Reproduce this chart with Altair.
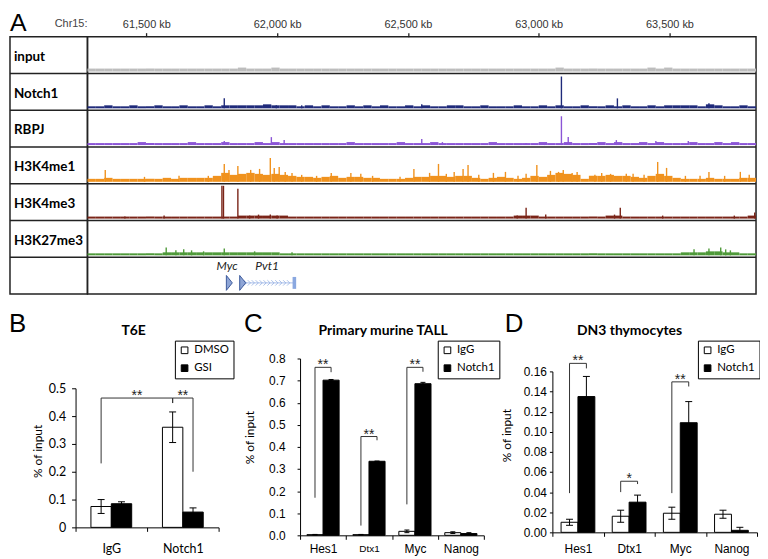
import altair as alt
import pandas as pd

# ---------------- Panel A : genome browser view ----------------
chrom_start = 61275
chrom_end = 63831
axis_kb = [61500, 62000, 62500, 63000, 63500]
track_names = ["input", "Notch1", "RBPJ", "H3K4me1", "H3K4me3", "H3K27me3"]
track_colors = ["#bdbdbd", "#1f2a7a", "#8b55d6", "#f0921e", "#7a2417", "#4f9a3a"]

input_bins = [3,3,3,3,3,3,3,3,3,3, 3,3,3,3,3,3,3,3,4,3, 3,3,4,3,3,3,3,3,3,3,
              3,3,3,3,3,3,3,3,3,3, 3,3,3,3,3,3,3,3,3,3, 3,3,3,3,3,3,4,3,3,3,
              3,3,3,3,3,3,3,4,3,4, 3,3,3,3,3,3,3,3,3,3]
notch1_bins = [2,2,3,2,2,3,2,2,3,2, 2,3,2,2,3,2,3,3,3,3, 3,4,3,3,3,2,3,2,3,2,
               2,3,2,3,2,3,2,2,3,2, 3,2,2,3,3,2,2,3,2,2, 2,3,2,2,3,2,3,2,2,3,
               2,2,3,2,3,2,2,3,2,3, 3,3,3,2,4,3,2,2,3,2]
rbpj_bins = [2,2,2,2,2,2,3,2,2,2, 2,2,3,2,2,2,3,2,2,2, 3,2,3,2,2,2,2,2,2,2,
             2,3,2,2,2,2,2,3,2,2, 2,3,2,2,2,2,2,2,3,2, 2,2,2,2,3,2,2,3,2,2,
             2,3,2,3,2,2,3,2,3,2, 2,2,3,2,2,3,2,3,2,2]
h3k4me1_bins = [3,3,4,3,3,3,3,3,3,4, 3,4,4,4,4,6,9,7,8,9, 8,7,8,7,6,5,5,4,5,6,
                4,5,5,4,4,3,3,3,4,5, 5,6,6,5,6,6,4,3,4,5, 4,3,4,6,5,7,9,8,7,3,
                6,6,7,6,6,5,4,6,8,6, 4,3,3,3,4,3,3,3,4,4]
h3k4me3_bins = [2,2,2,2,2,2,2,2,2,2, 2,2,2,2,2,2,2,2,3,3, 3,3,3,3,2,2,2,2,2,2,
                2,2,2,2,2,2,2,2,2,2, 2,2,2,2,2,2,2,2,2,2, 2,3,3,3,2,2,2,2,2,2,
                2,2,3,3,2,2,2,2,2,2, 2,2,2,2,2,2,2,2,2,3]
h3k27me3_bins = [2,2,2,2,2,2,2,2,2,3, 3,3,3,3,3,3,3,3,3,3, 3,3,3,2,2,2,2,2,2,2,
                 2,2,2,2,2,2,2,2,2,2, 2,2,2,2,2,2,2,2,2,2, 2,2,2,2,2,2,2,2,2,2,
                 2,2,2,2,2,2,2,2,2,2, 2,3,3,3,4,4,3,3,2,2]

# narrow peaks: (position kb, height)
notch1_peaks = [(61798, 10), (61997, 3), (62094, 3), (62553, 4), (63087, 32), (63301, 10), (63651, 5)]
rbpj_peaks = [(61519, 2), (61798, 4), (61978, 8), (62027, 5), (62553, 6), (62632, 3), (62952, 2),
              (63023, 2), (63087, 29), (63113, 8), (63297, 5), (63448, 4), (63572, 4)]
h3k4me1_peaks = [(61343, 12), (61493, 5), (61625, 6), (61737, 6), (61798, 18), (61816, 12),
                 (61850, 16), (61899, 12), (61933, 13), (61974, 24), (61989, 14), (62008, 15),
                 (62031, 10), (62057, 9), (62094, 7), (62151, 6), (62207, 9), (62282, 9),
                 (62320, 8), (62365, 6), (62470, 5), (62523, 13), (62583, 9), (62617, 18),
                 (62647, 8), (62677, 10), (62711, 13), (62730, 17), (62771, 7), (62827, 9),
                 (62873, 10), (62921, 6), (62952, 8), (62993, 17), (63045, 11), (63076, 10),
                 (63094, 12), (63128, 9), (63147, 10), (63215, 7), (63241, 9), (63275, 8),
                 (63335, 8), (63361, 8), (63403, 7), (63455, 20), (63489, 14), (63561, 6),
                 (63617, 6), (63651, 10), (63711, 6), (63771, 10), (63805, 7)]
h3k4me3_peaks = [(61418, 2), (61568, 3), (61789, 33), (61795, 33), (61850, 30), (61895, 3),
                 (61929, 4), (61974, 4), (62000, 3), (62918, 3), (62952, 11), (63027, 4),
                 (63290, 4), (63312, 11), (63474, 3), (63748, 3), (63826, 6)]
h3k27me3_peaks = [(61576, 8), (61613, 5), (61643, 6), (61673, 5), (61719, 4), (61798, 7),
                  (61914, 4), (62057, 3), (63594, 6), (63651, 7), (63696, 8), (63715, 6), (63733, 5)]

gene_names = ["Myc", "Pvt1"]
gene_start = [61806, 61857]
gene_end = [61812, 62066]
pvt1_intron_arrows = [61878, 61893, 61908, 61923, 61938, 61953, 61968, 61983, 61998, 62013, 62028, 62043]

# ---------------- Panels B, C, D : ChIP-qPCR ----------------
b_cats = ["IgG", "Notch1"]
b_series = ["DMSO", "GSI"]
b_means = [[0.075, 0.36], [0.085, 0.055]]
b_errs = [[0.025, 0.055], [0.007, 0.015]]
b_brackets = [("IgG", "DMSO", "Notch1", "DMSO", 0.23, 0.465, 0.447, "**"),
              ("Notch1", "DMSO", "Notch1", "GSI", 0.447, 0.465, 0.20, "**")]

c_cats = ["Hes1", "Dtx1", "Myc", "Nanog"]
c_series = ["IgG", "Notch1"]
c_means = [[0.003, 0.003, 0.018, 0.012], [0.702, 0.335, 0.686, 0.008]]
c_errs = [[0.001, 0.001, 0.006, 0.004], [0.003, 0.001, 0.006, 0.004]]
c_brackets = [("Hes1", "IgG", "Hes1", "Notch1", 0.17, 0.76, 0.738, "**"),
              ("Dtx1", "IgG", "Dtx1", "Notch1", 0.044, 0.447, 0.43, "**"),
              ("Myc", "IgG", "Myc", "Notch1", 0.14, 0.76, 0.74, "**")]

d_cats = ["Hes1", "Dtx1", "Myc", "Nanog"]
d_series = ["IgG", "Notch1"]
d_means = [[0.010, 0.016, 0.019, 0.018], [0.135, 0.030, 0.109, 0.002]]
d_errs = [[0.003, 0.006, 0.006, 0.004], [0.020, 0.007, 0.021, 0.003]]
d_brackets = [("Hes1", "IgG", "Hes1", "Notch1", 0.039, 0.168, 0.163, "**"),
              ("Dtx1", "IgG", "Dtx1", "Notch1", 0.040, 0.0508, 0.048, "*"),
              ("Myc", "IgG", "Myc", "Notch1", 0.039, 0.1496, 0.145, "**")]

# ================= build panel A =================
TRACK_PX = 37
N_ROWS = 7
A_W_LAB, A_W_TR, A_H = 78, 673, TRACK_PX * N_ROWS
BORDER = "#222222"
base_gap = 0.05

all_bins = [input_bins, notch1_bins, rbpj_bins, h3k4me1_bins, h3k4me3_bins, h3k27me3_bins]
all_peaks = [[], notch1_peaks, rbpj_peaks, h3k4me1_peaks, h3k4me3_peaks, h3k27me3_peaks]

bin_rows, peak_rows = [], []
for ti, name in enumerate(track_names):
    base = ti + 1 - base_gap
    vals = all_bins[ti]
    bw = (chrom_end - chrom_start) / len(vals)
    for i, v in enumerate(vals):
        bin_rows.append(dict(track=name, x=chrom_start + i * bw, x2=chrom_start + (i + 1) * bw,
                             y=base, y2=base - v / TRACK_PX))
    for kb, h in all_peaks[ti]:
        peak_rows.append(dict(track=name, kb=kb, y=base, y2=base - h / TRACK_PX))
bins_df = pd.DataFrame(bin_rows)
peaks_df = pd.DataFrame(peak_rows)

rows_df = pd.DataFrame({"name": track_names + [""], "row": list(range(N_ROWS))})
rows_df["mid"] = rows_df["row"] + 0.5
sep_df = rows_df[rows_df["row"] > 0]

gene_y = 6.70
label_y = 6.25
genes_df = pd.DataFrame({"gene": gene_names, "start": gene_start, "end": gene_end})
genes_df["mid"] = (genes_df["start"] + genes_df["end"]) / 2
genes_df["gy"] = gene_y
genes_df["ly"] = label_y
pvt1_df = genes_df[genes_df["gene"] == "Pvt1"]
arrows_df = pd.DataFrame({"kb": pvt1_intron_arrows, "gy": gene_y})

ys_tr = alt.Scale(domain=[0, N_ROWS], reverse=True, nice=False, zero=False)
xs_tr = alt.Scale(domain=[chrom_start, chrom_end], nice=False, zero=False)
col_scale = alt.Scale(domain=track_names, range=track_colors)

lab_text = alt.Chart(rows_df).mark_text(
    align="left", baseline="middle", font="Lato", fontWeight="bold", fontSize=13.5, dy=2, color="black"
).encode(x=alt.value(4), y=alt.Y("mid:Q", scale=ys_tr, axis=None), text="name:N")
lab_sep = alt.Chart(sep_df).mark_rule(color=BORDER, strokeWidth=1.5).encode(
    y=alt.Y("row:Q", scale=ys_tr, axis=None))
letter_a = alt.Chart(pd.DataFrame({"t": ["A"]})).mark_text(
    font="Liberation Sans", fontSize=25, align="left", baseline="alphabetic", color="black"
).encode(text="t:N", x=alt.value(0), y=alt.value(-6))
chr_lab = alt.Chart(pd.DataFrame({"t": ["Chr15:"]})).mark_text(
    font="Liberation Sans", fontSize=11, align="right", baseline="middle", color="#444444"
).encode(text="t:N", x=alt.value(78), y=alt.value(-13))
label_chart = alt.layer(lab_sep, lab_text, letter_a, chr_lab).properties(
    width=A_W_LAB, height=A_H, view=alt.ViewBackground(stroke=BORDER, strokeWidth=1.5))

top_axis = alt.Axis(
    orient="top", values=axis_kb, labelExpr="format(datum.value, ',') + ' kb'",
    tickSize=4, labelPadding=3, domain=False, grid=False, title=None,
    labelFont="Liberation Sans", labelFontSize=11, labelColor="#333333",
    tickColor=BORDER, tickWidth=1.3)

sig = alt.Chart(bins_df).mark_rect().encode(
    x=alt.X("x:Q", scale=xs_tr, axis=top_axis),
    x2=alt.X2("x2"),
    y=alt.Y("y:Q", scale=ys_tr, axis=None), y2=alt.Y2("y2"),
    color=alt.Color("track:N", scale=col_scale, legend=None))
peaks = alt.Chart(peaks_df).mark_rule(strokeWidth=1.4).encode(
    x=alt.X("kb:Q", scale=xs_tr, axis=top_axis),
    y=alt.Y("y:Q", scale=ys_tr, axis=None), y2=alt.Y2("y2"),
    color=alt.Color("track:N", scale=col_scale, legend=None))
tr_sep = alt.Chart(sep_df).mark_rule(color=BORDER, strokeWidth=1.5).encode(
    y=alt.Y("row:Q", scale=ys_tr, axis=None))
pvt1_line = alt.Chart(pvt1_df).mark_rule(color="#a9bfea", strokeWidth=1).encode(
    x=alt.X("start:Q", scale=xs_tr, axis=top_axis), x2=alt.X2("end"),
    y=alt.Y("gy:Q", scale=ys_tr, axis=None))
intron_arrows = alt.Chart(arrows_df).mark_point(
    shape="M-0.5,-1L0.5,0L-0.5,1", filled=False, color="#8aa8e0", strokeWidth=1, size=30
).encode(x=alt.X("kb:Q", scale=xs_tr, axis=top_axis), y=alt.Y("gy:Q", scale=ys_tr, axis=None))
gene_end_bar = alt.Chart(pvt1_df).mark_point(
    shape="M-0.3,-1L0.3,-1L0.3,1L-0.3,1Z", filled=True, color="#8aa8e0", size=144, opacity=1
).encode(x=alt.X("end:Q", scale=xs_tr, axis=top_axis), y=alt.Y("gy:Q", scale=ys_tr, axis=None))
gene_heads = alt.Chart(genes_df).mark_point(
    shape="M0,-1L0.8,0L0,1Z", filled=True, fill="#8ea5d6", stroke="#3d5b9c", strokeWidth=1,
    size=225, opacity=1
).encode(x=alt.X("start:Q", scale=xs_tr, axis=top_axis), y=alt.Y("gy:Q", scale=ys_tr, axis=None))
gene_labels = alt.Chart(genes_df).mark_text(
    font="Lato", fontStyle="italic", fontSize=12, color="#222222", baseline="middle"
).encode(x=alt.X("mid:Q", scale=xs_tr, axis=top_axis), y=alt.Y("ly:Q", scale=ys_tr, axis=None),
         text="gene:N")
track_chart = alt.layer(sig, peaks, tr_sep, pvt1_line, intron_arrows, gene_end_bar,
                        gene_heads, gene_labels).properties(
    width=A_W_TR, height=A_H, view=alt.ViewBackground(stroke=BORDER, strokeWidth=1.5))

top_row = alt.hconcat(label_chart, track_chart, spacing=0, bounds="flush")

# ================= build panels B, C, D =================
FRAME_H = 178


def bar_panel(cats, series, means, errs, brackets, p):
    n = len(cats)
    w = p["bar_w"]
    step = p["width"] / n
    capw = p["cap_px"] / step
    rows, caps = [], []
    for si, s in enumerate(series):
        for ci, c in enumerate(cats):
            m, e = means[si][ci], errs[si][ci]
            x = ci + 0.5 - w + si * w
            lo, hi = max(m - e, 0.0), m + e
            rows.append(dict(cat=c, ser=s, val=m, base=0.0, x=x, x2=x + w, xm=x + w / 2, lo=lo, hi=hi))
            for cy in (lo, hi):
                caps.append(dict(c1=x + w / 2 - capw, c2=x + w / 2 + capw, cy=cy))
    df = pd.DataFrame(rows)
    caps_df = pd.DataFrame(caps)

    def center(c, s):
        return cats.index(c) + 0.5 + (series.index(s) - 0.5) * w

    br_rows, star_rows = [], []
    for bi, (cl, sl, cr, sr, yl, yt, yr, lab) in enumerate(brackets):
        xl, xr = center(cl, sl), center(cr, sr)
        for o, (bx, by) in enumerate([(xl, yl), (xl, yt), (xr, yt), (xr, yr)]):
            br_rows.append(dict(bid=bi, o=o, bx=bx, by=by))
        star_rows.append(dict(sx=(xl + xr) / 2, sy=yt, lab=lab))
    br_df = pd.DataFrame(br_rows)
    star_df = pd.DataFrame(star_rows)

    xq = alt.Scale(domain=[0, n], nice=False, zero=False)
    ys = alt.Scale(domain=[0, p["ymax"]], range=p["yrange"], nice=False, zero=False)
    y_axis = alt.Axis(
        values=p["yvals"], format=p["yfmt"], tickSize=p["ytick"], labelPadding=p["ylab_pad"],
        domainColor="black", tickColor="black", labelFont=p["yfont"], labelFontSize=p["yfs"],
        labelColor="black", grid=False, title="% of input", titleFont="Lato",
        titleFontSize=12, titleFontWeight="normal", titleColor="black", titleAngle=270,
        titleX=p["ytitle"][0], titleY=p["ytitle"][1], titleAlign="center",
        titleBaseline="middle")

    axis_layer = alt.Chart(pd.DataFrame({"cat": cats})).mark_point(opacity=0).encode(
        x=alt.X("cat:N", sort=cats,
                scale=alt.Scale(type="band", domain=cats, paddingInner=0, paddingOuter=0),
                axis=alt.Axis(orient="bottom", offset=p["xoff"], tickBand="extent", tickSize=4,
                              labelPadding=p["xlab_pad"], labelAngle=0, domainColor="black",
                              tickColor="black", labelFont=p["xfont"], labelFontSize=p["xfs"],
                              labelColor="black", title=None, grid=False)),
        y=alt.value(0))
    bars = alt.Chart(df).mark_rect(stroke="black", strokeWidth=1).encode(
        x=alt.X("x:Q", scale=xq, axis=None), x2=alt.X2("x2"),
        y=alt.Y("val:Q", scale=ys, axis=y_axis),
        y2=alt.Y2("base"),
        fill=alt.Fill("ser:N", scale=alt.Scale(domain=series, range=["white", "black"]),
                      legend=alt.Legend(orient="none", legendX=p["leg"][0], legendY=p["leg"][1],
                                        title=None, symbolType="square", symbolSize=45,
                                        symbolStrokeColor="black", symbolStrokeWidth=1,
                                        labelFont="Lato", labelFontSize=11.5, labelColor="black",
                                        strokeColor="black", padding=4, rowPadding=5,
                                        labelOffset=4)))
    err = alt.Chart(df).mark_rule(color="black", strokeWidth=1).encode(
        x=alt.X("xm:Q", scale=xq, axis=None),
        y=alt.Y("lo:Q", axis=y_axis), y2=alt.Y2("hi"))
    cap = alt.Chart(caps_df).mark_rule(color="black", strokeWidth=1).encode(
        x=alt.X("c1:Q", scale=xq, axis=None), x2=alt.X2("c2"),
        y=alt.Y("cy:Q", axis=y_axis))
    br = alt.Chart(br_df).mark_line(color="#333333", strokeWidth=1).encode(
        x=alt.X("bx:Q", scale=xq, axis=None), y=alt.Y("by:Q", axis=y_axis),
        detail="bid:N", order="o:Q")
    stars = alt.Chart(star_df).mark_text(
        font="Liberation Sans", fontSize=14, baseline="alphabetic", dy=2, color="#222222"
    ).encode(x=alt.X("sx:Q", scale=xq, axis=None), y=alt.Y("sy:Q", axis=y_axis), text="lab:N")
    title = alt.Chart(pd.DataFrame({"t": [p["title"]]})).mark_text(
        font="Lato", fontWeight="bold", fontSize=14, align="center", baseline="middle", color="black"
    ).encode(text="t:N", x=alt.value(p["tpos"][0]), y=alt.value(p["tpos"][1]))
    return alt.layer(axis_layer, bars, err, cap, br, stars, title).resolve_scale(
        x="independent").properties(width=p["width"], height=FRAME_H)


LETTER_Y = -26.5


def spacer(letter, width, lx):
    return alt.Chart(pd.DataFrame({"t": [letter]})).mark_text(
        font="Liberation Sans", fontSize=26, align="left", baseline="alphabetic", color="black"
    ).encode(text="t:N", x=alt.value(lx), y=alt.value(LETTER_Y)).properties(width=width, height=FRAME_H)


b_params = dict(width=144, ymax=0.5, yrange=[170, 30], xoff=-8, bar_w=0.285, cap_px=3.5,
                yvals=[0, 0.1, 0.2, 0.3, 0.4, 0.5], yfmt="~g", ytick=4, ylab_pad=6,
                yfont="Lato", yfs=12.5, xfont="Lato", xfs=12.5, xlab_pad=11.5,
                leg=(100, -18), tpos=(58.4, -28), ytitle=(-38, 93), title="T6E")
c_params = dict(width=185, ymax=0.8, yrange=[178, 0], xoff=0, bar_w=0.35, cap_px=2.5,
                yvals=[0, 0.1, 0.2, 0.3, 0.4, 0.5, 0.6, 0.7, 0.8], yfmt=".1f", ytick=3, ylab_pad=12,
                yfont="Liberation Sans", yfs=12, xfont="Liberation Sans",
                xfs={"condition": {"test": "datum.value == 'Dtx1'", "value": 10}, "value": 12},
                xlab_pad=4, leg=(138.6, -18), tpos=(83.7, -28), ytitle=(-51, 79.2),
                title="Primary murine TALL")
d_params = dict(width=206, ymax=0.16, yrange=[175, 13], xoff=-3, bar_w=0.33, cap_px=3.5,
                yvals=[0, 0.02, 0.04, 0.06, 0.08, 0.10, 0.12, 0.14, 0.16], yfmt=".2f", ytick=3,
                ylab_pad=3, yfont="Liberation Sans", yfs=12, xfont="Liberation Sans", xfs=12,
                xlab_pad=7, leg=(146.5, -18), tpos=(77.7, -28), ytitle=(-46, 77.2),
                title="DN3 thymocytes")

panel_b = bar_panel(b_cats, b_series, b_means, b_errs, b_brackets, b_params)
panel_c = bar_panel(c_cats, c_series, c_means, c_errs, c_brackets, c_params)
panel_d = bar_panel(d_cats, d_series, d_means, d_errs, d_brackets, d_params)

bottom_row = alt.hconcat(spacer("B", 66, -1), panel_b, spacer("C", 82, 25.6), panel_c,
                         spacer("D", 69, 21), panel_d, spacing=0, bounds="flush"
                         ).resolve_scale(fill="independent").resolve_legend(fill="independent")

chart = alt.vconcat(top_row, bottom_row, spacing=16).resolve_scale(
    fill="independent").resolve_legend(fill="independent").properties(
    padding=0, background="white").configure_view(stroke=None)

chart.save("out.html", embed_options={"renderer": "svg", "actions": False})
